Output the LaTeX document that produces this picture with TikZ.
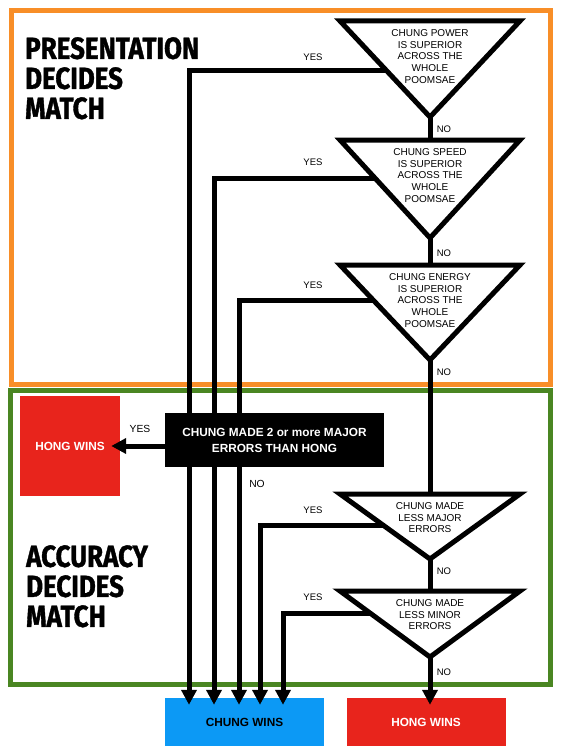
\documentclass[tikz,border=0pt]{standalone}
\usepackage{fontspec}
\setmainfont{Liberation Sans}
\newfontfamily\titlefont{Fira Sans}[FakeStretch=0.85, FakeBold=1.2]
\usetikzlibrary{arrows.meta,positioning,shapes.geometric,calc}
\definecolor{pdorange}{RGB}{248,142,40}
\definecolor{pdgreen}{RGB}{74,134,34}
\definecolor{pdblue}{RGB}{12,153,245}
\definecolor{pdred}{RGB}{232,36,28}

\begin{document}
\begin{tikzpicture}[x=1pt, y=-1pt, every node/.style={inner sep=0pt, font=\fontsize{9.5}{12}\selectfont},
  decision/.style={draw, line width=5pt, fill=white, isosceles triangle, shape border rotate=270,
    isosceles triangle stretches, minimum width=180pt, outer sep=0pt, anchor=apex},
  dtext/.style={align=center, below=8.5pt of #1, font=\fontsize{10}{11.6}\selectfont},
  flow/.style={line width=5pt, -{Triangle[width=15pt,length=15pt]}},
  chain/.style={line width=5pt},
  winbox/.style={minimum width=159pt, minimum height=48pt, font=\bfseries\fontsize{11.8}{14}\selectfont},
  title/.style={anchor=north west, align=left, font=\titlefont\bfseries\fontsize{30.5}{30}\selectfont}]
\useasboundingbox (0,0) rectangle (566,752);
% Frames
\draw[pdorange, line width=5pt] (11.5,10.5) rectangle (550.5,384.5);
\draw[pdgreen, line width=5pt] (10.5,390.5) rectangle (550.5,684.5);
\node[title] (ptitle) at (25,37) {PRESENTATION\\DECIDES\\MATCH};
\node[title] (atitle) at (26,545) {ACCURACY\\DECIDES\\MATCH};
% Decisions
\node[decision, minimum height=96pt] (d1) at (430,117) {};
\node[decision, minimum height=98pt] (d2) at (430,238) {};
\node[decision, minimum height=95pt] (d3) at (430,360) {};
\node[decision, minimum height=65pt] (d4) at (430,559) {};
\node[decision, minimum height=66pt] (d5) at (430,657) {};
\node[dtext=d1.lower side] (t1) {CHUNG POWER\\IS SUPERIOR\\ACROSS THE\\WHOLE\\POOMSAE};
\node[dtext=d2.lower side] (t2) {CHUNG SPEED\\IS SUPERIOR\\ACROSS THE\\WHOLE\\POOMSAE};
\node[dtext=d3.lower side] (t3) {CHUNG ENERGY\\IS SUPERIOR\\ACROSS THE\\WHOLE\\POOMSAE};
\node[dtext=d4.lower side] (t4) {CHUNG MADE\\LESS MAJOR\\ERRORS};
\node[dtext=d5.lower side] (t5) {CHUNG MADE\\LESS MINOR\\ERRORS};
% Results
\node[winbox, fill=pdblue, text=black] (chung) at (244.5,722) {CHUNG WINS};
\node[winbox, fill=pdred, text=white] (hongB) at (426,722) {HONG WINS};
\node[winbox, fill=pdred, text=white, minimum width=100pt, minimum height=100pt] (hongL) at (70,446) {HONG WINS};
% NO chain
\foreach \a/\b in {d1/d2, d2/d3, d3/d4, d4/d5} {
  \draw[chain] (\a.apex) -- (\b.lower side);
}
\draw[flow] (d5.apex) -- ([xshift=4pt, yshift=-7pt]hongB.north);
% YES branches
\draw[flow] ($(d1.right corner)!.52!(d1.apex)$) -| ([xshift=-55.5pt, yshift=-7pt]chung.north);
\draw[flow] ($(d2.right corner)!.39!(d2.apex)$) -| ([xshift=-30.5pt, yshift=-7pt]chung.north);
\draw[flow] ($(d3.right corner)!.37!(d3.apex)$) -| ([xshift=-5.5pt, yshift=-7pt]chung.north);
\draw[flow] ($(d4.right corner)!.49!(d4.apex)$) -| ([xshift=15.5pt, yshift=-7pt]chung.north);
\draw[flow] ($(d5.right corner)!.34!(d5.apex)$) -| ([xshift=38.5pt, yshift=-7pt]chung.north);
% Major errors check
\node[fill=black, text=white, align=center, minimum width=219pt, minimum height=54pt,
  font=\bfseries\fontsize{11.8}{16}\selectfont] (err) at (274.5,440) {CHUNG MADE 2 or more MAJOR\\ERRORS THAN HONG};
\draw[flow] (err.west |- hongL.east) -- ([xshift=-9pt]hongL.east);
% Labels
\foreach \y/\n in {57/1, 162/2, 285/3, 510/4, 597/5} {
  \node (yes\n) at (313,\y) {YES};
}
\foreach \y/\n in {129/1, 253/2, 372/3, 571/4, 672/5} {
  \node (no\n) at (444,\y) {NO};
}
\node[font=\fontsize{10.3}{12}\selectfont] (yesL) at (140,429) {YES};
\node[font=\fontsize{10.3}{12}\selectfont] (noE) at (257,484) {NO};
\end{tikzpicture}
\end{document}
